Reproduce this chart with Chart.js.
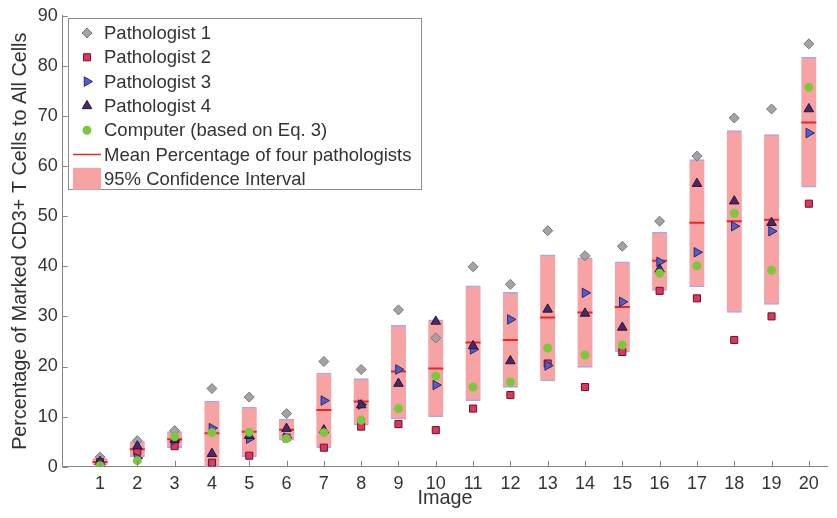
<!DOCTYPE html>
<html>
<head>
<meta charset="utf-8">
<script src="https://cdn.jsdelivr.net/npm/chart.js@4/dist/chart.umd.min.js"></script>
<style>
  html, body { margin: 0; padding: 0; background: #fff; }
  #myChart { display: block; }
</style>
</head>
<body>
<canvas id="myChart" width="837" height="518"></canvas>
<script>
// values (percent)
const images = [1, 2, 3, 4, 5, 6, 7, 8, 9, 10, 11, 12, 13, 14, 15, 16, 17, 18, 19, 20];
const pathologist1 = [1.9, 5.2, 7.2, 15.6, 13.9, 10.6, 21.0, 19.4, 31.3, 25.7, 39.9, 36.4, 47.1, 42.1, 44.0, 49.0, 62.0, 69.6, 71.4, 84.4];
const pathologist2 = [0.9, 3.0, 4.1, 0.8, 2.2, 5.8, 3.8, 8.0, 8.5, 7.3, 11.6, 14.3, 20.6, 15.9, 22.9, 35.1, 33.6, 25.3, 30.0, 52.5];
const pathologist3 = [0.0, 1.7, 5.3, 7.7, 5.6, 5.8, 13.2, 12.4, 19.4, 16.3, 23.4, 29.4, 20.2, 34.7, 32.9, 40.9, 42.8, 48.0, 47.0, 66.6];
const pathologist4 = [1.0, 4.1, 5.4, 2.6, 6.2, 7.6, 7.3, 12.3, 16.6, 29.0, 24.1, 21.1, 31.4, 30.6, 27.8, 39.4, 56.5, 53.0, 48.7, 71.4];
const computer = [0.2, 1.2, 6.0, 6.8, 6.9, 5.6, 6.8, 9.3, 11.6, 18.1, 15.9, 16.9, 23.7, 22.3, 24.3, 38.6, 40.1, 50.6, 39.2, 75.7];
const meanPct = [0.95, 3.5, 5.5, 6.7, 7.0, 7.4, 11.3, 13.0, 19.0, 19.6, 24.8, 25.3, 29.8, 30.8, 31.9, 41.1, 48.7, 49.0, 49.3, 68.7];
const ciLow = [0.3, 2.0, 3.8, 0.0, 2.0, 5.3, 3.8, 8.3, 9.5, 10.0, 13.2, 15.8, 17.1, 19.8, 22.9, 35.2, 35.9, 30.8, 32.4, 55.8];
const ciHigh = [1.6, 5.0, 7.0, 13.1, 11.9, 9.5, 18.7, 17.6, 28.2, 29.3, 36.1, 34.8, 42.3, 41.7, 40.9, 46.8, 61.3, 67.1, 66.3, 81.7];
const xTickLabels = [1, 2, 3, 4, 5, 6, 7, 8, 9, 10, 11, 12, 13, 14, 15, 16, 17, 18, 19, 20];
const yTickLabels = [0, 10, 20, 30, 40, 50, 60, 70, 80, 90];

const fontFam = '"Liberation Sans", Arial, Helvetica, sans-serif';
const textColor = '#333333';
const axisColor = '#858585';

const legendOrder = ['Pathologist 1', 'Pathologist 2', 'Pathologist 3', 'Pathologist 4',
    'Computer (based on Eq. 3)', 'Mean Percentage of four pathologists', '95% Confidence Interval'];

function pts(vals) {
    return vals.map((v, i) => ({x: images[i], y: v}));
}

function marker(label, vals, style, radius, fill, border, bw, rot, order) {
    return {
        label: label,
        data: pts(vals),
        pointStyle: style,
        pointRadius: radius,
        pointRotation: rot,
        pointBackgroundColor: fill,
        pointBorderColor: border,
        pointBorderWidth: bw,
        backgroundColor: fill,
        borderColor: border,
        borderWidth: bw,
        showLine: false,
        order: order
    };
}

// ticks pointing into the plot, like the original
const insideTicks = {
    id: 'insideTicks',
    afterDraw(chart) {
        const {ctx, chartArea, scales: {x, y}} = chart;
        ctx.save();
        ctx.strokeStyle = axisColor;
        ctx.lineWidth = 1;
        ctx.beginPath();
        x.ticks.forEach(t => {
            const px = Math.round(x.getPixelForValue(t.value)) + 0.5;
            ctx.moveTo(px, chartArea.bottom);
            ctx.lineTo(px, chartArea.bottom - 6);
        });
        y.ticks.forEach(t => {
            const py = Math.round(y.getPixelForValue(t.value)) + 0.5;
            ctx.moveTo(chartArea.left, py);
            ctx.lineTo(chartArea.left + 5, py);
        });
        ctx.stroke();
        ctx.restore();
    }
};

// boxed legend inside the top-left of the plot
const boxLegend = {
    id: 'boxLegend',
    afterDraw(chart) {
        const ctx = chart.ctx;
        const byLabel = {};
        chart.data.datasets.forEach(d => { byLabel[d.label] = d; });
        ctx.save();
        ctx.fillStyle = '#ffffff';
        ctx.fillRect(68.5, 18.5, 353, 171);
        ctx.strokeStyle = '#8c8c8c';
        ctx.lineWidth = 1;
        ctx.strokeRect(68.5, 18.5, 353, 171);
        legendOrder.forEach((name, i) => {
            const d = byLabel[name];
            const cy = 33 + i * 24.3;
            if (d.type === 'bar') {
                ctx.fillStyle = d.backgroundColor;
                ctx.fillRect(73, cy - 11, 28, 22);
            } else if (d.pointStyle === 'line') {
                ctx.strokeStyle = d.pointBorderColor;
                ctx.lineWidth = 1.5;
                ctx.beginPath();
                ctx.moveTo(73, cy);
                ctx.lineTo(101, cy);
                ctx.stroke();
            } else {
                ctx.fillStyle = d.pointBackgroundColor;
                ctx.strokeStyle = d.pointBorderColor;
                ctx.lineWidth = d.pointBorderWidth;
                Chart.helpers.drawPoint(ctx, {
                    pointStyle: d.pointStyle,
                    radius: d.pointRadius,
                    rotation: d.pointRotation || 0,
                    borderWidth: d.pointBorderWidth
                }, 87, cy);
            }
            ctx.fillStyle = textColor;
            ctx.font = '18.5px ' + fontFam;
            ctx.textBaseline = 'middle';
            ctx.textAlign = 'left';
            ctx.fillText(name, 104, cy + 1);
        });
        ctx.restore();
    }
};

const ctx = document.getElementById('myChart').getContext('2d');
const myChart = new Chart(ctx, {
    type: 'scatter',
    data: {
        datasets: [
            {
                type: 'bar',
                label: '95% Confidence Interval',
                data: images.map((x, i) => ({x: x, y: [ciLow[i], ciHigh[i]]})),
                backgroundColor: '#f7a3a3',
                borderColor: '#a6a6ea',
                borderWidth: {top: 1.5, bottom: 1.5, left: 0, right: 0},
                borderSkipped: false,
                barThickness: 15,
                order: 10
            },
            {
                label: 'Mean Percentage of four pathologists',
                data: pts(meanPct),
                pointStyle: 'line',
                pointRadius: 7.5,
                pointBorderColor: '#e8262a',
                pointBorderWidth: 2,
                borderColor: '#e8262a',
                borderWidth: 2,
                showLine: false,
                order: 9
            },
            marker('Pathologist 1', pathologist1, 'rectRot', 5, '#a3a3a3', '#787878', 1, 0, 6),
            marker('Pathologist 2', pathologist2, 'rect', 5, '#e8325c', '#5a1a2a', 1, 0, 5),
            marker('Pathologist 3', pathologist3, 'triangle', 5.5, '#4f60c8', '#28296e', 1, 90, 4),
            marker('Pathologist 4', pathologist4, 'triangle', 5.5, '#4a2a66', '#24143a', 1, 0, 3),
            marker('Computer (based on Eq. 3)', computer, 'circle', 4.5, '#7cc83c', '#7cc83c', 0, 0, 2)
        ]
    },
    options: {
        responsive: false,
        animation: false,
        layout: {padding: {top: 13, right: 0, bottom: 0, left: 0}},
        plugins: {
            legend: {display: false},
            tooltip: {enabled: false}
        },
        scales: {
            x: {
                type: 'linear',
                min: 0,
                max: 20.5,
                offset: false,
                afterBuildTicks: s => { s.ticks = xTickLabels.map(v => ({value: v})); },
                afterFit: s => { s.height = 51.3; },
                grid: {display: false, drawTicks: false, offset: false},
                border: {display: true, color: axisColor, width: 1},
                ticks: {
                    padding: 7,
                    color: textColor,
                    maxRotation: 0,
                    autoSkip: false,
                    font: {family: fontFam, size: 18}
                },
                title: {
                    display: true,
                    text: 'Image',
                    color: textColor,
                    font: {family: fontFam, size: 19.8},
                    padding: {top: 0, bottom: 8}
                }
            },
            y: {
                min: 0,
                max: 90,
                afterBuildTicks: s => { s.ticks = yTickLabels.map(v => ({value: v})); },
                afterFit: s => { s.width = 62.7; },
                grid: {display: false, drawTicks: false},
                border: {display: true, color: axisColor, width: 1},
                ticks: {
                    padding: 5,
                    color: textColor,
                    font: {family: fontFam, size: 18}
                },
                title: {
                    display: true,
                    text: 'Percentage of Marked CD3+ T Cells to All Cells',
                    color: textColor,
                    font: {family: fontFam, size: 19.8},
                    padding: {top: 8.6, bottom: 0}
                }
            }
        }
    },
    plugins: [insideTicks, boxLegend]
});
</script>
</body>
</html>
